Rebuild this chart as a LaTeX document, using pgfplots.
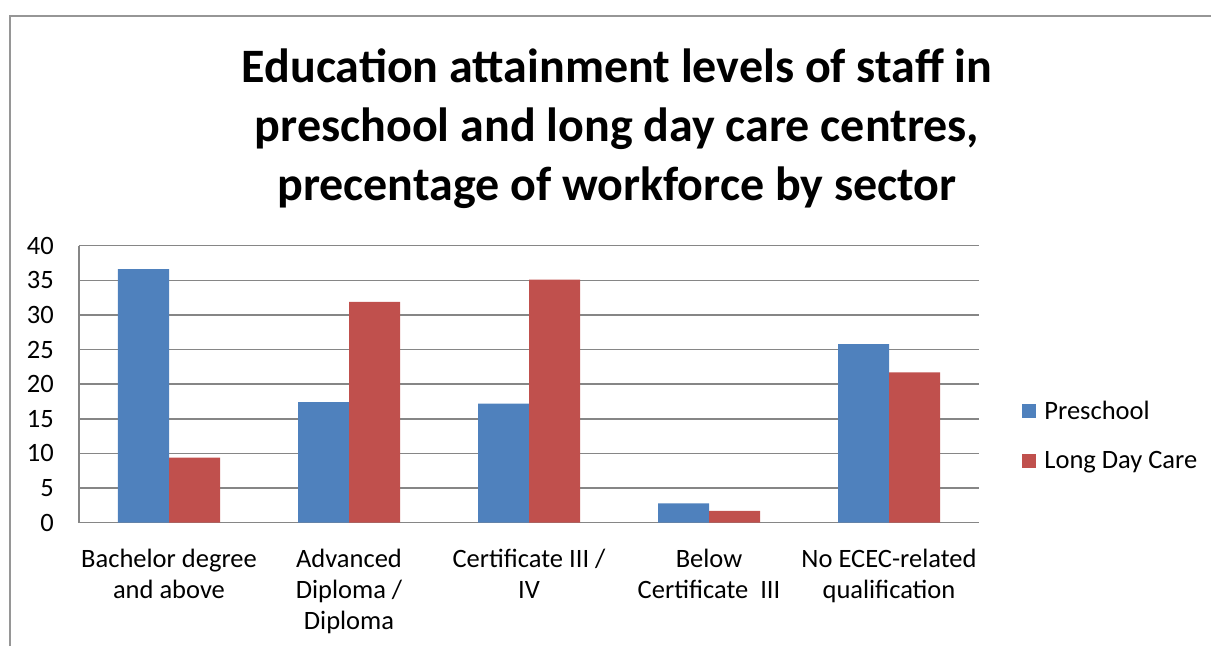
\documentclass[border=0pt]{standalone}
\usepackage{pgfplots}
\pgfplotsset{compat=1.18}
\usepackage{fontspec}
\setmainfont{Carlito}
\definecolor{ppblue}{HTML}{4F81BD}
\definecolor{ppred}{HTML}{C0504D}
\definecolor{gridgray}{RGB}{134,134,134}
\definecolor{framegray}{RGB}{150,150,150}
\begin{document}
\begin{tikzpicture}[x=1pt,y=1pt]
\useasboundingbox (0,0) rectangle (1211,646);
\draw[color=framegray, line width=2pt] (10,0) -- (10,630) -- (1211,630);
\node[font=\fontsize{48}{59}\selectfont\bfseries, align=center, anchor=north, inner sep=0pt] at (617,597)
  {Education attainment levels of staff in\\preschool and long day care centres,\\precentage of workforce by sector};
\begin{axis}[
  at={(79pt,123.3pt)}, anchor=south west,
  scale only axis, width=900pt, height=277pt,
  ybar=0pt, bar width=51pt,
  xmin=-0.5, xmax=4.5, ymin=0, ymax=40,
  ytick={0,5,...,40},
  xtick={0,1,2,3,4},
  xticklabels={{Bachelor degree\\and above},{Advanced\\Diploma /\\Diploma},{Certificate III /\\IV},{Below\\Certificate~ III},{No ECEC-related\\qualification}},
  axis x line=bottom, axis y line=left,
  axis line style={gridgray, line width=1.5pt, -},
  ymajorgrids, major grid style={gridgray, line width=1.5pt},
  major tick length=0pt,
  /pgf/number format/assume math mode=true,
  yticklabel style={font=\fontsize{26.5}{31}\selectfont, inner sep=0pt, xshift=-25pt},
  xticklabel style={font=\fontsize{26.5}{31}\selectfont, inner sep=0pt, yshift=-26pt, align=center},
  legend style={at={(rel axis cs:1.048,0.314)}, anchor=west, draw=none, fill=none,
    font=\fontsize{26.5}{31}\selectfont, inner sep=0pt, row sep=30pt,
    legend cell align=left, nodes={inner sep=0pt}},
  legend image code/.code={\fill[#1] (0pt,-7pt) rectangle (14pt,7pt); \path (22pt,0pt);},
]
\addplot[fill=ppblue, draw=none] coordinates {(0,36.6) (1,17.4) (2,17.2) (3,2.8) (4,25.8)};
\addplot[fill=ppred, draw=none] coordinates {(0,9.4) (1,31.9) (2,35.1) (3,1.7) (4,21.7)};
\legend{Preschool, Long Day Care}
\end{axis}
\end{tikzpicture}
\end{document}
